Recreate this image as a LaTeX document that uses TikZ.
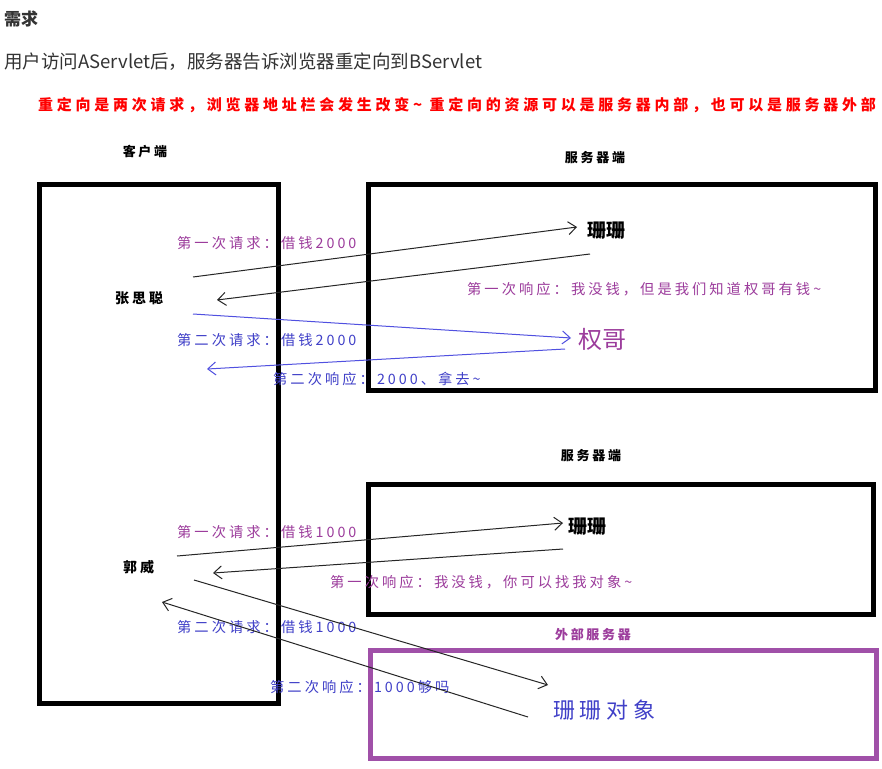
\documentclass[tikz,border=0pt]{standalone}
\usepackage{fontspec}
\usetikzlibrary{arrows.meta}
\setmainfont{Noto Sans CJK SC}
\newfontfamily\cjk{Noto Sans CJK SC}
\newfontfamily\cjkls[LetterSpace=21]{Noto Sans CJK SC}
\newfontfamily\cjkred[LetterSpace=25]{Noto Sans CJK SC}
\definecolor{lblpurple}{HTML}{9C3C9C}
\definecolor{lblblue}{HTML}{4040C8}
\definecolor{arrblue}{HTML}{5050E0}
\definecolor{boxpurple}{HTML}{A050A8}
\definecolor{headgray}{HTML}{333333}
\begin{document}
\begin{tikzpicture}[x=1pt,y=-1pt,
  boxframe/.style={draw=black,line width=5pt},
  pboxframe/.style={draw=boxpurple,line width=5pt},
  arr/.style={-{Straight Barb[length=8pt,width=13pt]},line width=1pt,draw=black!85},
  barr/.style={arr,draw=arrblue},
  lbl/.style={anchor=west,inner sep=0pt,font=\cjkls\fontsize{14.3pt}{16pt}\selectfont},
  plbl/.style={lbl,text=lblpurple},
  blbl/.style={lbl,text=lblblue},
  person/.style={anchor=west,inner sep=0pt,font=\cjkls\bfseries\fontsize{14pt}{16pt}\selectfont},
  ttl/.style={anchor=center,inner sep=0pt,font=\cjkls\bfseries\fontsize{13pt}{15pt}\selectfont}
]
\useasboundingbox[fill=white] (0,0) rectangle (882,768);

% header texts
\node[anchor=west,inner sep=0pt,text=headgray,font=\cjk\bfseries\fontsize{17pt}{19pt}\selectfont] (h1) at (4,19) {需求};
\node[anchor=west,inner sep=0pt,text=headgray,font=\cjk\fontsize{18.5pt}{20pt}\selectfont] (h2) at (4,62) {用户访问AServlet后，服务器告诉浏览器重定向到BServlet};
\node[anchor=west,inner sep=0pt,text=red,font=\cjkred\bfseries\fontsize{15pt}{17pt}\selectfont] (h3) at (38,105) {重定向是两次请求，浏览器地址栏会发生改变\char"007E{} 重定向的资源可以是服务器内部，也可以是服务器外部};

% boxes
\draw[boxframe] (39,184) rectangle (278.5,703.5);
\draw[boxframe] (368.5,184) rectangle (875,390.5);
\draw[boxframe] (368.5,484.5) rectangle (873,614.5);
\draw[pboxframe] (370,650) rectangle (876.5,758);

% titles
\node[ttl] (tclient) at (145,152) {客户端};
\node[ttl] (tserver1) at (595,158) {服务器端};
\node[ttl] (tserver2) at (591,456) {服务器端};
\node[ttl,text=lblpurple] (textern) at (593,634) {外部服务器};

% people
\node[person] (zsc) at (115,298) {张思聪};
\node[person,font=\cjk\bfseries\fontsize{19pt}{21pt}\selectfont] (ss1) at (587,231) {珊珊};
\node[anchor=west,inner sep=0pt,text=lblpurple,font=\cjk\fontsize{24pt}{26pt}\selectfont] (qg) at (578,339) {权哥};
\node[person] (gw) at (123,567) {郭威};
\node[person,font=\cjk\bfseries\fontsize{19pt}{21pt}\selectfont] (ss2) at (568,527) {珊珊};
\node[anchor=west,inner sep=0pt,text=lblblue,font=\cjkls\fontsize{22pt}{24pt}\selectfont] (ssdx) at (553,710) {珊珊对象};

% labels
\node[plbl] (l1) at (177,243) {第一次请求：借钱2000};
\node[plbl] (l2) at (467,289) {第一次响应：我没钱，但是我们知道权哥有钱\char"007E};
\node[blbl] (l3) at (177,340) {第二次请求：借钱2000};
\node[blbl] (l4) at (273,379) {第二次响应：2000、拿去\char"007E};
\node[plbl] (l5) at (177,532) {第一次请求：借钱1000};
\node[plbl] (l6) at (330,582) {第一次响应：我没钱，你可以找我对象\char"007E};
\node[blbl] (l7) at (177,627) {第二次请求：借钱1000};
\node[blbl] (l8) at (270,687) {第二次响应：1000够吗};

% arrow end points
\coordinate (a1s) at (193,277); \coordinate (a1e) at (577,227);
\coordinate (a2s) at (590,254); \coordinate (a2e) at (217,300);
\coordinate (b1s) at (193,314); \coordinate (b1e) at (571,338);
\coordinate (b2s) at (565,349); \coordinate (b2e) at (207,369);
\coordinate (c1s) at (177,556); \coordinate (c1e) at (563,523);
\coordinate (c2s) at (563,549); \coordinate (c2e) at (213,573);
\coordinate (d1s) at (194,580); \coordinate (d1e) at (548,685);
\coordinate (d2s) at (528,717); \coordinate (d2e) at (162,602);

\draw[arr] (a1s) -- (a1e);
\draw[arr] (a2s) -- (a2e);
\draw[barr] (b1s) -- (b1e);
\draw[barr] (b2s) -- (b2e);
\draw[arr] (c1s) -- (c1e);
\draw[arr] (c2s) -- (c2e);
\draw[arr] (d1s) -- (d1e);
\draw[arr] (d2s) -- (d2e);
\end{tikzpicture}
\end{document}
